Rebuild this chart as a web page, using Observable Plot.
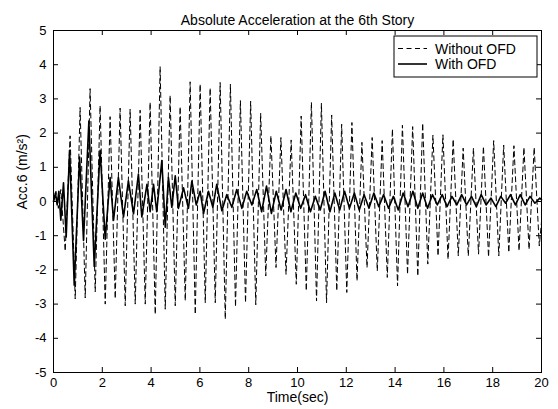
<!DOCTYPE html>
<html>
<head>
<meta charset="utf-8">
<script src="https://cdn.jsdelivr.net/npm/d3@7"></script>
<script src="https://cdn.jsdelivr.net/npm/@observablehq/plot@0.6"></script>
<style>
  html, body { margin: 0; padding: 0; background: #fff; }
  #chart svg { display: block; font-family: "Liberation Sans", Arial, sans-serif; }
</style>
</head>
<body>
<div id="chart"></div>
<script>
// ---- data ----
const titleText = "Absolute Acceleration at the 6th Story";
const xLabel = "Time(sec)";
const yLabel = "Acc.6 (m/s²)";
const seriesNames = ["Without OFD", "With OFD"];
const xTicks = [0, 2, 4, 6, 8, 10, 12, 14, 16, 18, 20];
const yTicks = [-5, -4, -3, -2, -1, 0, 1, 2, 3, 4, 5];

// [time (s), acceleration (m/s^2)] – extrema of the dashed trace
const withoutOFD = [
  [0, 0], [0.1, 0.3], [0.2, -0.2], [0.3, 0.35],
  [0.48, -1.45], [0.68, 1.92], [0.89, -2.85], [1.09, 2.75], [1.3, -2.82], [1.5, 3.3],
  [1.71, -2.64], [1.91, 2.8], [2.12, -3.0], [2.32, 2.48], [2.53, -2.84], [2.73, 2.73],
  [2.94, -3.05], [3.14, 2.7], [3.35, -3.0], [3.55, 2.67], [3.76, -3.0], [3.96, 2.9],
  [4.17, -3.3], [4.37, 3.94], [4.58, -3.15], [4.78, 3.1], [4.99, -3.05], [5.19, 2.77],
  [5.4, -2.9], [5.6, 3.5], [5.81, -3.3], [6.01, 3.43], [6.22, -2.96], [6.42, 3.32],
  [6.63, -2.96], [6.83, 3.48], [7.04, -3.44], [7.25, 3.43], [7.46, -3.08], [7.66, 2.95],
  [7.87, -2.96], [8.08, 2.93], [8.29, -3.02], [8.49, 2.58], [8.7, -2.18], [8.91, 1.92],
  [9.12, -1.93], [9.32, 1.87], [9.53, -2.13], [9.74, 1.8], [9.95, -2.42], [10.15, 2.5],
  [10.36, -2.61], [10.57, 2.9], [10.78, -2.91], [10.98, 2.87], [11.19, -2.96], [11.4, 2.53],
  [11.61, -2.61], [11.81, 2.26], [12.02, -2.66], [12.23, 2.31], [12.44, -2.32], [12.64, 1.73],
  [12.85, -1.93], [13.06, 1.87], [13.27, -2.03], [13.47, 1.78], [13.68, -2.22], [13.89, 2.12],
  [14.1, -2.47], [14.3, 2.23], [14.51, -2.13], [14.72, 2.19], [14.93, -2.18], [15.13, 2.29],
  [15.34, -1.83], [15.55, 1.94], [15.76, -1.59], [15.96, 1.95], [16.17, -1.69], [16.38, 1.82],
  [16.59, -1.59], [16.79, 1.56], [17.0, -1.59], [17.21, 1.56], [17.42, -1.54], [17.62, 1.61],
  [17.83, -1.62], [18.04, 1.78], [18.25, -1.59], [18.45, 1.65], [18.66, -1.49], [18.87, 1.63],
  [19.08, -1.44], [19.28, 1.58], [19.49, -1.4], [19.7, 1.58], [19.91, -1.3], [20, -0.6]
];

// [time (s), acceleration (m/s^2)] – extrema of the solid trace
const withOFD = [
  [0, 0], [0.08, 0.25], [0.15, -0.1], [0.22, 0.3], [0.3, -0.55], [0.41, 0.55],
  [0.52, -1.04], [0.66, 1.5], [0.85, -2.45], [1.07, 1.3], [1.23, -1.14], [1.45, 2.35],
  [1.67, -1.9], [1.91, 1.5], [2.12, -1.1], [2.32, 0.7], [2.46, -0.55], [2.66, 0.7],
  [2.87, -0.45], [3.07, 0.6], [3.28, -0.36], [3.48, 0.8], [3.62, -0.45], [3.83, 0.5],
  [3.96, -0.3], [4.1, 0.5], [4.23, -0.3], [4.44, 1.2], [4.58, -0.75], [4.71, 0.7],
  [4.85, -0.17], [4.99, 0.75], [5.12, -0.2], [5.33, 0.4], [5.53, -0.2], [5.67, 0.6],
  [5.85, -0.1], [6.01, 0.3], [6.15, -0.35], [6.35, 0.3], [6.53, -0.17], [6.69, 0.5],
  [6.9, -0.27], [7.1, 0.2], [7.31, -0.17], [7.51, 0.35], [7.72, -0.2], [7.92, 0.3],
  [8.13, -0.1], [8.33, 0.35], [8.53, -0.3], [8.73, 0.45], [8.93, -0.35], [9.13, 0.3],
  [9.33, -0.25], [9.53, 0.35], [9.73, -0.3], [9.93, 0.25], [10.13, -0.2], [10.33, 0.2],
  [10.53, -0.3], [10.73, 0.15], [10.93, -0.25], [11.13, 0.3], [11.33, -0.3], [11.53, 0.25],
  [11.73, -0.25], [11.93, 0.3], [12.13, -0.2], [12.33, 0.25], [12.53, -0.25], [12.73, 0.2],
  [12.93, -0.2], [13.13, 0.25], [13.33, -0.15], [13.53, 0.2], [13.73, -0.2], [13.93, 0.15],
  [14.13, -0.25], [14.33, 0.25], [14.53, -0.15], [14.73, 0.3], [14.93, -0.2], [15.13, 0.25],
  [15.33, -0.2], [15.53, 0.2], [15.73, -0.1], [15.93, 0.2], [16.13, -0.15], [16.33, 0.15],
  [16.53, -0.1], [16.73, 0.2], [16.93, -0.1], [17.13, 0.15], [17.33, -0.15], [17.53, 0.2],
  [17.73, -0.1], [17.93, 0.1], [18.13, -0.15], [18.33, 0.15], [18.53, -0.05], [18.73, 0.2],
  [18.93, -0.1], [19.13, 0.2], [19.33, -0.1], [19.53, 0.15], [19.73, -0.05], [19.93, 0.1],
  [20, 0.05]
];

// ---- layout ----
const W = 558, H = 409;
const mL = 53, mR = 17, mT = 30, mB = 37;
const innerW = W - mL - mR, innerH = H - mT - mB;
const tickLen = 5;
const dashPattern = "5,3.5";

const plot = Plot.plot({
  width: W, height: H,
  marginLeft: mL, marginRight: mR, marginTop: mT, marginBottom: mB,
  style: { background: "#fff", fontFamily: "'Liberation Sans', Arial, sans-serif", color: "#000" },
  x: { domain: [0, 20] },
  y: { domain: [-5, 5] },
  marks: [
    Plot.line(withoutOFD, { x: d => d[0], y: d => d[1], stroke: "#000", strokeWidth: 1, strokeDasharray: dashPattern }),
    Plot.line(withOFD, { x: d => d[0], y: d => d[1], stroke: "#000", strokeWidth: 1.6 }),
    Plot.frame({ stroke: "#000", strokeWidth: 1 }),
    // inward ticks on all four sides
    Plot.tickX(xTicks, { x: d => d, insetTop: innerH - tickLen, stroke: "#000" }),
    Plot.tickX(xTicks, { x: d => d, insetBottom: innerH - tickLen, stroke: "#000" }),
    Plot.tickY(yTicks, { y: d => d, insetRight: innerW - tickLen, stroke: "#000" }),
    Plot.tickY(yTicks, { y: d => d, insetLeft: innerW - tickLen, stroke: "#000" }),
    Plot.axisX(xTicks, { tickSize: 0, tickPadding: 5, fontSize: 13, tickFormat: d => String(d), label: null }),
    Plot.axisY(yTicks, { tickSize: 0, tickPadding: 7, fontSize: 13, tickFormat: d => String(d), label: null }),
    Plot.text([titleText], { frameAnchor: "top", dy: -15, fontSize: 14, fill: "#000" }),
    Plot.text([xLabel], { frameAnchor: "bottom", dy: 29, fontSize: 14, fill: "#000" }),
    Plot.text([yLabel], { frameAnchor: "left", dx: -31, dy: 8, rotate: -90, fontSize: 14, fill: "#000" })
  ]
});

// ---- legend box (MATLAB style, top right inside the axes) ----
const svg = d3.select(plot);
const lg = svg.append("g")
  .attr("font-family", "'Liberation Sans', Arial, sans-serif")
  .attr("font-size", 14)
  .attr("text-anchor", "start");
lg.append("rect").attr("x", 394).attr("y", 36).attr("width", 143).attr("height", 41)
  .attr("fill", "#fff").attr("stroke", "#000").attr("stroke-width", 1);
const dashes = [dashPattern, null];
const widths = [1, 1.6];
seriesNames.forEach((name, i) => {
  const cy = 48.5 + i * 15.5;
  const ln = lg.append("line").attr("x1", 398).attr("x2", 427).attr("y1", cy).attr("y2", cy)
    .attr("stroke", "#000").attr("stroke-width", widths[i]);
  if (dashes[i]) ln.attr("stroke-dasharray", dashes[i]);
  lg.append("text").attr("x", 435).attr("y", cy).attr("dy", "0.36em")
    .attr("text-anchor", "start").attr("fill", "#000").text(name);
});

document.getElementById("chart").appendChild(plot);
</script>
</body>
</html>
